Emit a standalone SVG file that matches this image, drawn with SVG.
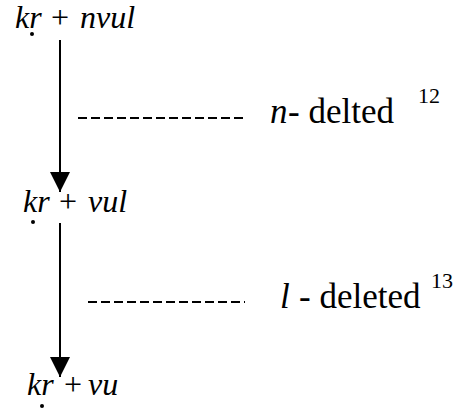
<svg xmlns="http://www.w3.org/2000/svg" width="453" height="415" viewBox="0 0 453 415">
<style>
.ln{stroke:#000;stroke-width:2;fill:none}
.dash{stroke:#000;stroke-width:2;stroke-dasharray:9 4;fill:none}
</style>
<defs>
<marker id="ah" markerUnits="userSpaceOnUse" markerWidth="20" markerHeight="20" viewBox="0 0 20 20" refX="20" refY="10" orient="auto">
<path d="M0,0 L20,10 L0,20 z" fill="#000"/>
</marker>
</defs>
<g id="node-top">
<text x="15" y="28" font-family="Liberation Serif" font-size="32" font-style="italic">kr</text>
<text x="51" y="28" font-family="Liberation Serif" font-size="32">+</text>
<text x="80" y="28" font-family="Liberation Serif" font-size="32" font-style="italic">nvul</text>
<circle cx="32" cy="34" r="2" fill="#000"/>
</g>
<g id="node-mid">
<text x="23" y="212" font-family="Liberation Serif" font-size="32" font-style="italic">kr</text>
<text x="59" y="212" font-family="Liberation Serif" font-size="32">+</text>
<text x="88" y="212" font-family="Liberation Serif" font-size="32" font-style="italic">vul</text>
<circle cx="33" cy="222" r="2" fill="#000"/>
</g>
<g id="node-bot">
<text x="27" y="395" font-family="Liberation Serif" font-size="32" font-style="italic">kr</text>
<text x="64" y="395" font-family="Liberation Serif" font-size="32">+</text>
<text x="88" y="395" font-family="Liberation Serif" font-size="32" font-style="italic">vu</text>
<circle cx="42" cy="406" r="2" fill="#000"/>
</g>
<g id="label-1">
<text x="270" y="123" font-family="Liberation Serif" font-size="35" font-style="italic">n</text>
<text x="288" y="123" font-family="Liberation Serif" font-size="35">- delted</text>
<text x="418" y="103" font-family="Liberation Serif" font-size="22">12</text>
</g>
<g id="label-2">
<text x="280" y="308" font-family="Liberation Serif" font-size="35" font-style="italic">l</text>
<text x="299" y="308" font-family="Liberation Serif" font-size="35">- deleted</text>
<text x="431" y="288" font-family="Liberation Serif" font-size="22">13</text>
</g>
<g id="connectors">
<line class="ln" x1="60" y1="40" x2="60" y2="192" marker-end="url(#ah)"/>
<line class="ln" x1="60" y1="223" x2="60" y2="377" marker-end="url(#ah)"/>
<line class="dash" x1="78" y1="118" x2="245" y2="118"/>
<line class="dash" x1="88" y1="302" x2="245" y2="302"/>
</g>
</svg>
